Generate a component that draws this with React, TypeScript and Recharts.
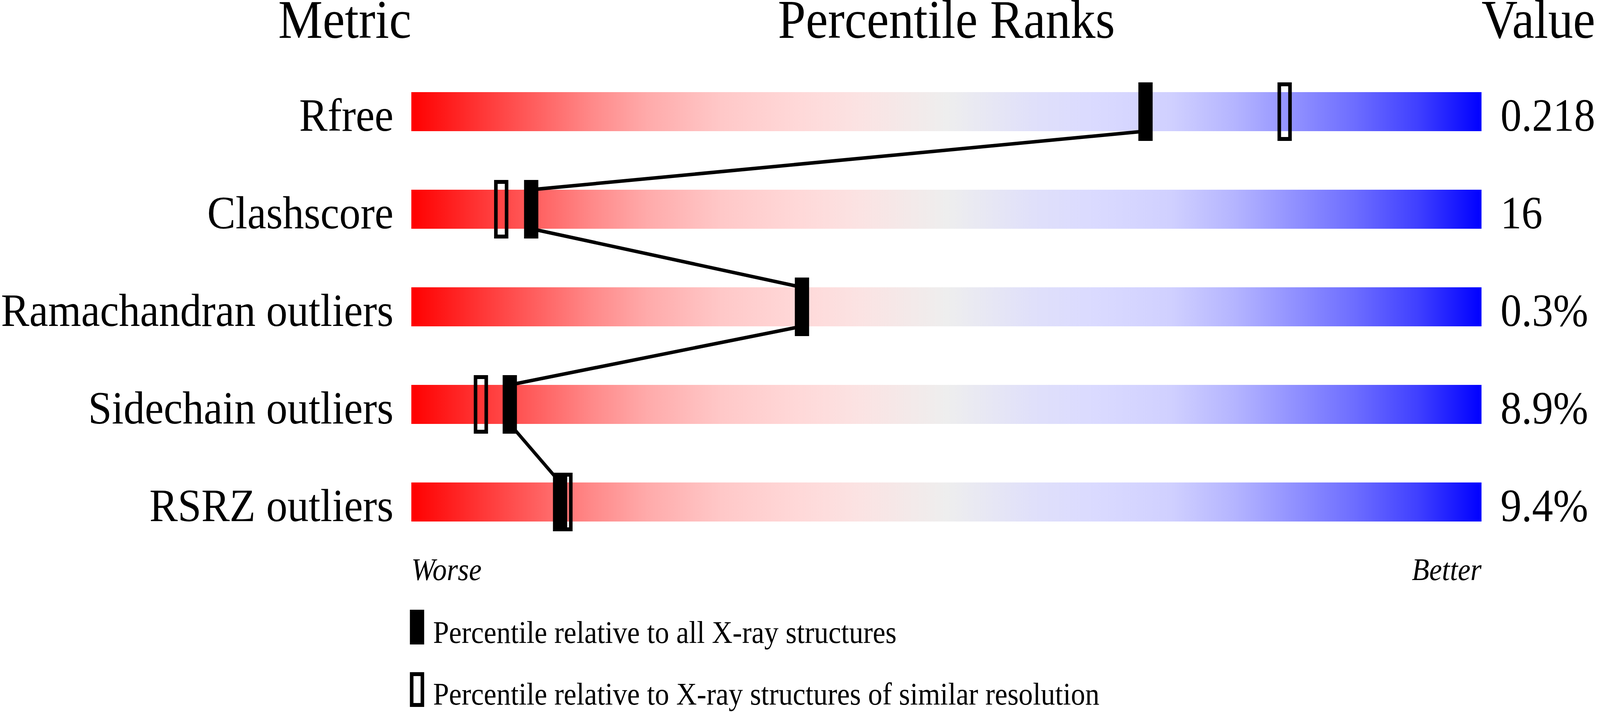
import React from 'react';
import { ComposedChart, Bar, XAxis, YAxis, Scatter, Line, LabelList } from 'recharts';

// ---- data ----
const metrics = ['Rfree', 'Clashscore', 'Ramachandran outliers', 'Sidechain outliers', 'RSRZ outliers'];
const valueLabels = ['0.218', '16', '0.3%', '8.9%', '9.4%'];
const pctAll = [68.6, 11.2, 36.5, 9.2, 13.9];
const pctSimilar: (number | null)[] = [81.6, 8.4, null, 6.5, 14.4];
const trackMax = [100, 100, 100, 100, 100];
const headers = ['Metric', 'Percentile Ranks', 'Value'];
const scaleEnds = ['Worse', 'Better'];
const legendLabels = [
  'Percentile relative to all X-ray structures',
  'Percentile relative to X-ray structures of similar resolution',
];

// ---- layout ----
const W = 4485;
const H = 1824;
const PLOT_LEFT = 1153;
const PLOT_RIGHT = 4153;
const PLOT_TOP = 161;
const ROW_BAND = 250;
const BAR_H = 100;
const FONT = "'Liberation Serif', 'Times New Roman', Times, serif";

const rows = metrics.map((m, i) => ({
  metric: m,
  full: trackMax[i],
  all: pctAll[i],
  similar: pctSimilar[i],
  value: valueLabels[i],
}));

// connector: from bottom edge of one track to top edge of the next, at the "all" percentile
const halfBarRows = BAR_H / 2 / ROW_BAND;
const lineData = metrics
  .flatMap((m, i) => [
    { pos: i - halfBarRows, pct: pctAll[i] },
    { pos: i + halfBarRows, pct: pctAll[i] },
  ])
  .slice(1, -1);

const gradientStops: [number, string][] = [
  [0, '#ff0000'],
  [0.07, '#ff3a3a'],
  [0.13, '#ff6a6a'],
  [0.17, '#ff8a8a'],
  [0.22, '#ffaaaa'],
  [0.29, '#ffc8c8'],
  [0.36, '#ffd8d8'],
  [0.42, '#fbe3e3'],
  [0.5, '#eeeeee'],
  [0.58, '#e0e0fa'],
  [0.64, '#dadaff'],
  [0.71, '#d0d0ff'],
  [0.77, '#b4b4ff'],
  [0.82, '#9494ff'],
  [0.88, '#6e6eff'],
  [0.94, '#4040ff'],
  [1, '#0000ff'],
];

const isNum = (v: any) => typeof v === 'number' && !isNaN(v);

const FilledMarker = (props: any) => {
  const { cx, cy, payload } = props;
  if (!isNum(cx) || !isNum(cy) || payload?.all == null) return <g />;
  return <rect x={cx - 20} y={cy - 75} width={40} height={150} fill="#000" />;
};

const OpenMarker = (props: any) => {
  const { cx, cy, payload } = props;
  if (!isNum(cx) || !isNum(cy) || payload?.similar == null) return <g />;
  return (
    <rect x={cx - 15} y={cy - 70} width={30} height={140} fill="none" stroke="#000" strokeWidth={10} />
  );
};

const MetricTick = (props: any) => {
  const { x, y, payload } = props;
  return (
    <text x={x} y={y} dy={49} textAnchor="end" fontSize={119} fontFamily={FONT} fill="#000">
      {payload.value}
    </text>
  );
};

const ValueLabel = (props: any) => {
  const { x, y, width, height, value } = props;
  return (
    <text x={x + width + 53} y={y + height / 2 + 49} textAnchor="start" fontSize={118} fontFamily={FONT} fill="#000">
      {value}
    </text>
  );
};

export default function App() {
  // fit the fixed-size drawing into the actual viewport if the window is smaller
  const vw = typeof window !== 'undefined' ? window.innerWidth : W;
  const vh = typeof window !== 'undefined' ? window.innerHeight : H;
  const kx = Math.min(1, vw / W);
  const ky = Math.min(1, vh / H);

  return (
    <div style={{ position: 'absolute', left: 0, top: 0, width: W * kx, height: H * ky, overflow: 'hidden', background: '#fff' }}>
      <div
        style={{
          position: 'absolute',
          left: 0,
          top: 0,
          width: W,
          height: H,
          transform: `scale(${kx}, ${ky})`,
          transformOrigin: '0 0',
        }}
      >
        <ComposedChart
          width={W}
          height={H}
          data={rows}
          layout="vertical"
          margin={{ top: PLOT_TOP, right: W - PLOT_RIGHT, bottom: H - PLOT_TOP - ROW_BAND * metrics.length, left: 0 }}
        >
          <defs>
            <linearGradient id="track" x1="0" y1="0" x2="1" y2="0">
              {gradientStops.map(([o, c]) => (
                <stop key={o} offset={o} stopColor={c} />
              ))}
            </linearGradient>
          </defs>
          <XAxis type="number" domain={[0, 100]} hide allowDataOverflow />
          <YAxis
            yAxisId="cat"
            type="category"
            dataKey="metric"
            width={PLOT_LEFT}
            axisLine={false}
            tickLine={false}
            tickSize={0}
            tickMargin={50}
            interval={0}
            tick={<MetricTick />}
          />
          <YAxis
            yAxisId="num"
            type="number"
            dataKey="pos"
            domain={[-0.5, metrics.length - 0.5]}
            hide
            allowDataOverflow
          />
          <Bar yAxisId="cat" dataKey="full" fill="url(#track)" barSize={BAR_H} isAnimationActive={false}>
            <LabelList dataKey="value" content={<ValueLabel />} />
          </Bar>
          <Line
            yAxisId="num"
            data={lineData}
            dataKey="pct"
            type="linear"
            stroke="#000"
            strokeWidth={9}
            dot={false}
            activeDot={false}
            isAnimationActive={false}
          />
          <Scatter yAxisId="cat" dataKey="similar" shape={<OpenMarker />} isAnimationActive={false} />
          <Scatter yAxisId="cat" dataKey="all" shape={<FilledMarker />} isAnimationActive={false} />
        </ComposedChart>
        <svg
          width={W}
          height={H}
          style={{ position: 'absolute', left: 0, top: 0, pointerEvents: 'none' }}
        >
          <g fontFamily={FONT} fill="#000">
            <text x={PLOT_LEFT} y={97} fontSize={140} textAnchor="end">{headers[0]}</text>
            <text x={(PLOT_LEFT + PLOT_RIGHT) / 2} y={97} fontSize={140} textAnchor="middle">{headers[1]}</text>
            <text x={PLOT_RIGHT} y={97} fontSize={140} textAnchor="start">{headers[2]}</text>
            <text x={PLOT_LEFT} y={1486} fontSize={80} fontStyle="italic" textAnchor="start">{scaleEnds[0]}</text>
            <text x={PLOT_RIGHT} y={1486} fontSize={80} fontStyle="italic" textAnchor="end">{scaleEnds[1]}</text>
            <rect x={PLOT_LEFT - 4} y={1562} width={40} height={89} fill="#000" />
            <text x={1214} y={1647} fontSize={80}>{legendLabels[0]}</text>
            <rect x={PLOT_LEFT + 1} y={1727} width={30} height={79} fill="none" stroke="#000" strokeWidth={10} />
            <text x={1214} y={1805} fontSize={80}>{legendLabels[1]}</text>
          </g>
        </svg>
      </div>
    </div>
  );
}
